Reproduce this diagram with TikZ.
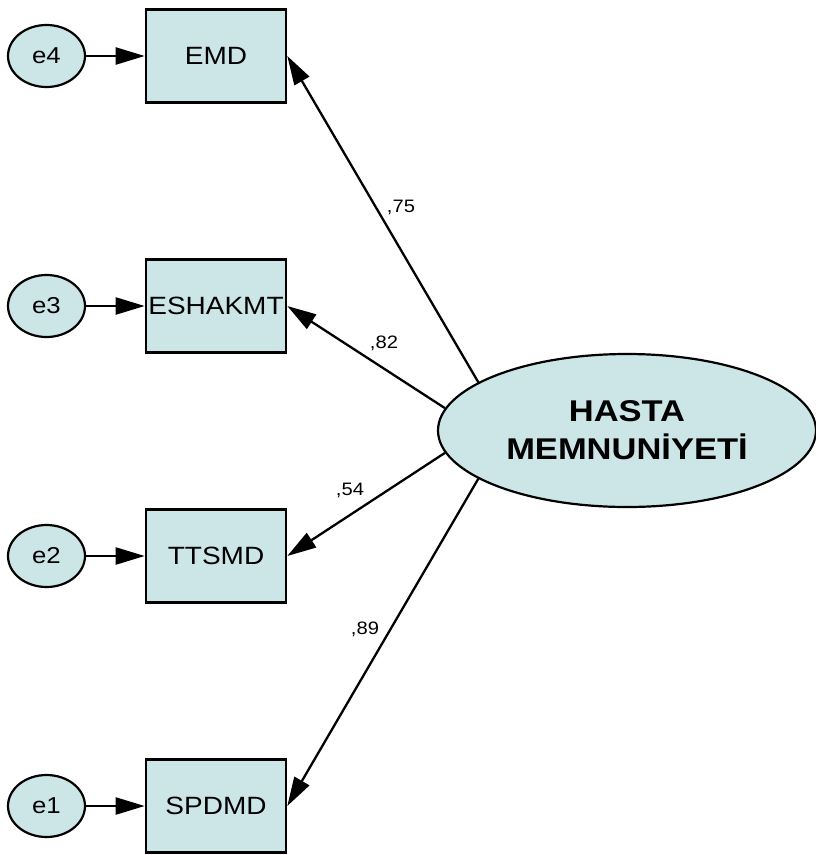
\documentclass[tikz,border=0pt]{standalone}
\usepackage{fontspec}
\usepackage{graphicx}
\setmainfont{Liberation Sans}
\usetikzlibrary{arrows.meta,shapes.geometric}
\definecolor{boxfill}{RGB}{204,230,231}
% text in this diagram is set slightly wide
\newcommand{\wide}[1]{\scalebox{1.12}[1]{#1}}
\newcommand{\wider}[1]{\scalebox{1.15}[1]{#1}}
\tikzset{
  obs/.style={draw=black, line width=2.6pt, fill=boxfill, rectangle,
    minimum width=140pt, minimum height=93pt, inner sep=0pt,
    font=\fontsize{25}{28}\selectfont},
  err/.style={draw=black, line width=2.2pt, fill=boxfill, ellipse,
    minimum width=77pt, minimum height=62pt, inner sep=0pt,
    font=\fontsize{23}{26}\selectfont},
  latent/.style={draw=black, line width=2.2pt, fill=boxfill, ellipse,
    minimum width=378pt, minimum height=153pt, inner sep=0pt, align=center,
    font=\fontsize{30}{38}\selectfont\bfseries},
  arr/.style={line width=2.3pt, -{Triangle[length=29pt,width=17pt]}},
  lab/.style={inner sep=0pt, font=\fontsize{18}{20}\selectfont}
}
\begin{document}
\begin{tikzpicture}[x=1pt, y=-1pt]
\useasboundingbox (0,0) rectangle (816,855);

% observed indicators
\node[obs] (emd)   at (216,56)  {\wide{EMD}};
\node[obs] (esh)   at (216,306) {\wide{ESHAKMT}};
\node[obs] (ttsmd) at (216,556) {\wide{TTSMD}};
\node[obs] (spdmd) at (216,806) {\wide{SPDMD}};

% error terms
\node[err] (e4) at (46.5,56)  {\wide{e4}};
\node[err] (e3) at (46.5,306) {\wide{e3}};
\node[err] (e2) at (46.5,556) {\wide{e2}};
\node[err] (e1) at (46.5,806) {\wide{e1}};

% latent construct
\node[latent] (hm) at (627,430.5) {\wider{HASTA}\\\wider{MEMNUNİYETİ}};

% error paths
\draw[arr] (e4) -- (emd);
\draw[arr] (e3) -- (esh);
\draw[arr] (e2) -- (ttsmd);
\draw[arr] (e1) -- (spdmd);

% factor loadings
\draw[arr] (hm.162) -- (emd.east);
\draw[arr] (hm.173) -- (esh.east);
\draw[arr] (hm.187) -- (ttsmd.east);
\draw[arr] (hm.198) -- (spdmd.east);

\node[lab] (l75) at (401,207) {\wide{,75}};
\node[lab] (l82) at (384,343) {\wide{,82}};
\node[lab] (l54) at (350,490) {\wide{,54}};
\node[lab] (l89) at (365,629) {\wide{,89}};
\end{tikzpicture}
\end{document}
